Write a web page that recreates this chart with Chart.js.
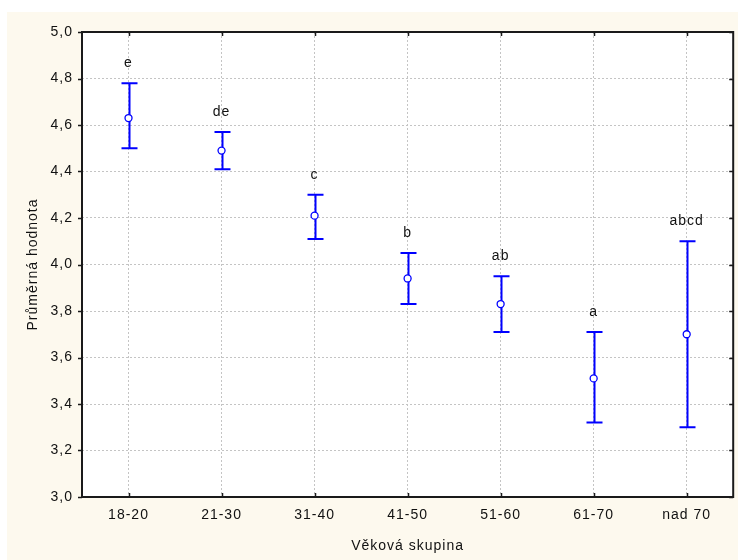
<!DOCTYPE html>
<html lang="cs">
<head>
    <meta charset="UTF-8">
    <title>Průměrná hodnota podle věkové skupiny</title>
    <style>
        body {
            margin: 0;
            background-color: #fff;
        }
        canvas {
            display: block;
        }
    </style>
</head>
<body>
    <canvas id="chart" width="738" height="560"></canvas>

    <script src="https://cdn.jsdelivr.net/npm/chart.js"></script>
    <script>
        // data
        const categories = ['18-20', '21-30', '31-40', '41-50', '51-60', '61-70', 'nad 70'];
        const means = [4.63, 4.49, 4.21, 3.94, 3.83, 3.51, 3.70];
        const upper = [4.78, 4.57, 4.30, 4.05, 3.95, 3.71, 4.10];
        const lower = [4.50, 4.41, 4.11, 3.83, 3.71, 3.32, 3.30];
        const groups = ['e', 'de', 'c', 'b', 'ab', 'a', 'abcd'];

        const FONT = 'Liberation Sans, Arial, sans-serif';
        const BLUE = '#0000ff';

        // cream page, white plot area, black frame with small tick marks
        const framePlugin = {
            id: 'frame',
            beforeDraw(chart) {
                const ctx = chart.ctx;
                const a = chart.chartArea;
                ctx.save();
                ctx.fillStyle = '#fdf9ee';
                ctx.fillRect(7, 12, chart.width - 7, chart.height - 12);
                ctx.fillStyle = '#ffffff';
                ctx.fillRect(a.left, a.top, a.right - a.left, a.bottom - a.top);
                ctx.restore();
                ctx.letterSpacing = '1px';
            },
            afterDraw(chart) {
                const ctx = chart.ctx;
                const a = chart.chartArea;
                const x = chart.scales.x;
                const y = chart.scales.y;
                ctx.save();
                ctx.strokeStyle = '#1a1a1a';
                ctx.lineWidth = 2;
                ctx.strokeRect(a.left, a.top, a.right - a.left, a.bottom - a.top);
                ctx.lineWidth = 1.5;
                ctx.beginPath();
                y.ticks.forEach((t, i) => {
                    const py = Math.round(y.getPixelForTick(i)) + 0.5;
                    ctx.moveTo(a.left - 4, py);
                    ctx.lineTo(a.left, py);
                    ctx.moveTo(a.right, py);
                    ctx.lineTo(a.right - 4, py);
                });
                x.ticks.forEach((t, i) => {
                    const px = Math.round(x.getPixelForValue(i)) + 0.5;
                    ctx.moveTo(px, a.bottom);
                    ctx.lineTo(px, a.bottom - 4);
                    ctx.moveTo(px, a.top);
                    ctx.lineTo(px, a.top + 4);
                });
                ctx.stroke();
                ctx.restore();
            }
        };

        // vertical error bars with caps, and the group letters above them
        const errorBarPlugin = {
            id: 'errorBars',
            beforeDatasetsDraw(chart) {
                const ctx = chart.ctx;
                const x = chart.scales.x;
                const y = chart.scales.y;
                ctx.save();
                ctx.strokeStyle = BLUE;
                ctx.lineWidth = 2;
                categories.forEach((c, i) => {
                    const px = Math.round(x.getPixelForValue(i)) + 0.5;
                    const top = y.getPixelForValue(upper[i]);
                    const bot = y.getPixelForValue(lower[i]);
                    ctx.beginPath();
                    ctx.moveTo(px, top);
                    ctx.lineTo(px, bot);
                    ctx.moveTo(px - 8, top);
                    ctx.lineTo(px + 8, top);
                    ctx.moveTo(px - 8, bot);
                    ctx.lineTo(px + 8, bot);
                    ctx.stroke();
                });
                ctx.restore();
            },
            afterDatasetsDraw(chart) {
                const ctx = chart.ctx;
                const x = chart.scales.x;
                const y = chart.scales.y;
                ctx.save();
                ctx.fillStyle = '#111';
                ctx.font = '14px ' + FONT;
                ctx.textAlign = 'center';
                ctx.textBaseline = 'middle';
                groups.forEach((g, i) => {
                    const px = x.getPixelForValue(i);
                    const py = y.getPixelForValue(upper[i]) - 20;
                    ctx.fillText(g, px, py);
                });
                ctx.restore();
            }
        };

        new Chart(document.getElementById('chart'), {
            type: 'line',
            data: {
                labels: categories,
                datasets: [{
                    label: 'Průměrná hodnota',
                    data: means,
                    showLine: false,
                    pointRadius: 3.5,
                    pointHoverRadius: 3.5,
                    pointBackgroundColor: '#ffffff',
                    pointBorderColor: BLUE,
                    pointBorderWidth: 1.3
                }]
            },
            options: {
                responsive: false,
                animation: false,
                layout: {
                    padding: { left: 0, top: 32, right: 3, bottom: 0 }
                },
                plugins: {
                    legend: { display: false },
                    tooltip: { enabled: false }
                },
                scales: {
                    x: {
                        type: 'category',
                        offset: true,
                        afterFit(scale) { scale.height = 63; },
                        grid: {
                            offset: false,
                            color: '#c4c4c4',
                            lineWidth: 1,
                            drawTicks: false
                        },
                        border: { display: false, dash: [2, 2] },
                        ticks: {
                            color: '#111',
                            padding: 10,
                            maxRotation: 0,
                            autoSkip: false,
                            font: { family: FONT, size: 14 }
                        },
                        title: {
                            display: true,
                            text: 'Věková skupina',
                            color: '#111',
                            padding: { top: 4, bottom: 5 },
                            font: { family: FONT, size: 14 }
                        }
                    },
                    y: {
                        min: 3,
                        max: 5,
                        afterFit(scale) { scale.width = 82; },
                        grid: {
                            color: '#c4c4c4',
                            lineWidth: 1,
                            drawTicks: false
                        },
                        border: { display: false, dash: [2, 2] },
                        ticks: {
                            stepSize: 0.2,
                            color: '#111',
                            padding: 9,
                            font: { family: FONT, size: 14 },
                            callback: (v) => v.toFixed(1).replace('.', ',')
                        },
                        title: {
                            display: true,
                            text: 'Průměrná hodnota',
                            color: '#111',
                            padding: { top: 25, bottom: 4 },
                            font: { family: FONT, size: 14 }
                        }
                    }
                }
            },
            plugins: [framePlugin, errorBarPlugin]
        });
    </script>
</body>
</html>
